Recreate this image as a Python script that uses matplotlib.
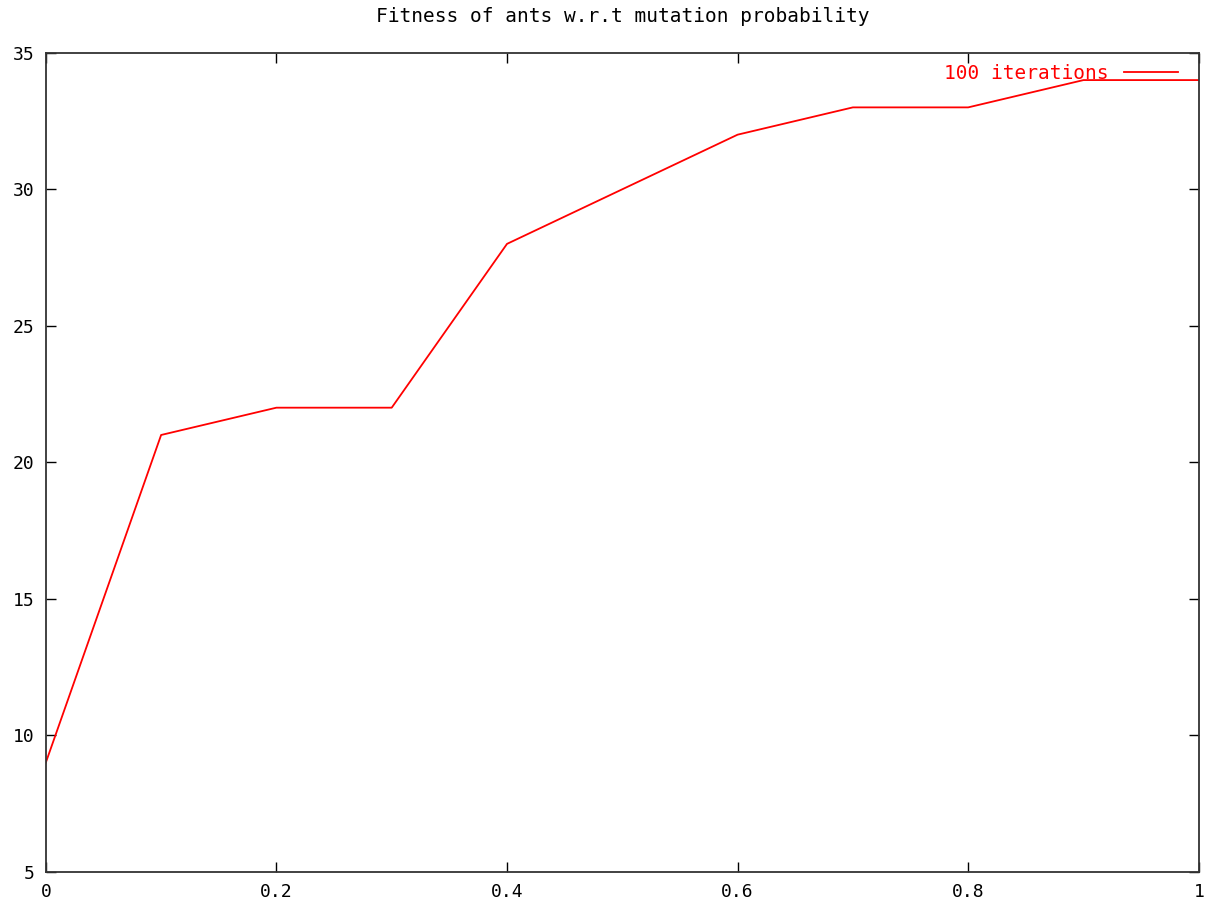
import numpy as np
import matplotlib
matplotlib.use("Agg")
import matplotlib.pyplot as plt

# mutation probability vs fitness
mutation_prob = [0.0, 0.1, 0.2, 0.3, 0.4, 0.5, 0.6, 0.7, 0.8, 0.9, 1.0]
fitness = [9, 21, 22, 22, 28, 30, 32, 33, 33, 34, 34]
x_ticks = [0, 0.2, 0.4, 0.6, 0.8, 1]
x_tick_labels = ["0", "0.2", "0.4", "0.6", "0.8", "1"]
y_ticks = [5, 10, 15, 20, 25, 30, 35]

plt.rcParams['font.family'] = ['DejaVu Sans Mono']

fig = plt.figure(figsize=(12.06, 9.10), dpi=100)
ax = fig.add_axes([0.038, 0.042, 0.956, 0.900])

ax.plot(mutation_prob, fitness, color="red", linewidth=1.3)
ax.set_xlim(0, 1)
ax.set_ylim(5, 35)
ax.set_xticks(x_ticks)
ax.set_xticklabels(x_tick_labels)
ax.set_yticks(y_ticks)
ax.tick_params(direction="in", top=True, right=True, length=7, width=1,
               labelsize=13, pad=8)
for s in ax.spines.values():
    s.set_linewidth(1.3)
    s.set_color("#333333")

ax.set_title("Fitness of ants w.r.t mutation probability", fontsize=14, pad=22)

# gnuplot-style key
ax.text(0.922, 34.25, "100 iterations", color="red", fontsize=14,
        ha="right", va="center")
ax.plot([0.935, 0.982], [34.3, 34.3], color="red", linewidth=1.3)

fig.savefig("out.png", dpi=100)
